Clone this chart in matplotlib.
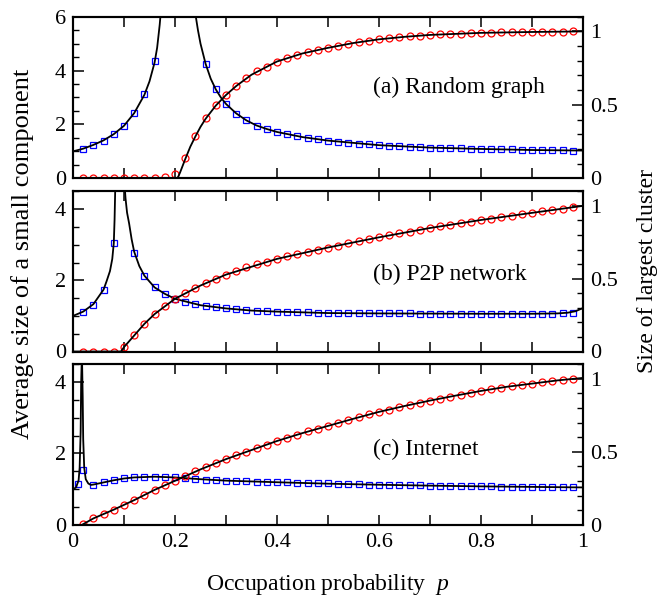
import numpy as np
import matplotlib
matplotlib.use("Agg")
import matplotlib.pyplot as plt
from matplotlib.ticker import MultipleLocator, FuncFormatter

plt.rcParams['font.family'] = ['Liberation Serif', 'DejaVu Serif']
plt.rcParams['mathtext.fontset'] = 'custom'
plt.rcParams['mathtext.rm'] = 'Liberation Serif'
plt.rcParams['mathtext.it'] = 'Liberation Serif:italic'

nan = float('nan')

# ---------------- data ----------------
p_pts = [0.02, 0.04, 0.06, 0.08, 0.10, 0.12, 0.14, 0.16, 0.18, 0.20,
         0.22, 0.24, 0.26, 0.28, 0.30, 0.32, 0.34, 0.36, 0.38, 0.40,
         0.42, 0.44, 0.46, 0.48, 0.50, 0.52, 0.54, 0.56, 0.58, 0.60,
         0.62, 0.64, 0.66, 0.68, 0.70, 0.72, 0.74, 0.76, 0.78, 0.80,
         0.82, 0.84, 0.86, 0.88, 0.90, 0.92, 0.94, 0.96, 0.98]

# (a) Random graph
a_small = [1.09, 1.23, 1.40, 1.63, 1.95, 2.42, 3.13, 4.35, nan, nan,
           nan, nan, 4.25, 3.30, 2.75, 2.40, 2.15, 1.96, 1.83, 1.72,
           1.63, 1.56, 1.51, 1.46, 1.40, 1.36, 1.32, 1.29, 1.26, 1.23,
           1.21, 1.19, 1.17, 1.15, 1.14, 1.13, 1.12, 1.11, 1.10, 1.09,
           1.08, 1.07, 1.07, 1.06, 1.05, 1.05, 1.04, 1.04, 1.03]
a_giant = [0.0, 0.0, 0.0, 0.0, 0.0, 0.0, 0.0, 0.003, 0.01, 0.03,
           0.14, 0.29, 0.41, 0.50, 0.57, 0.63, 0.68, 0.73, 0.76, 0.795,
           0.82, 0.84, 0.86, 0.875, 0.888, 0.901, 0.915, 0.927, 0.937, 0.946,
           0.953, 0.96, 0.966, 0.971, 0.976, 0.979, 0.982, 0.985, 0.988, 0.990,
           0.991, 0.993, 0.994, 0.995, 0.996, 0.997, 0.998, 0.999, 1.0]
a_small_line_p = [0.0, 0.02, 0.04, 0.06, 0.08, 0.10, 0.12, 0.14, 0.15, 0.16,
                  0.165, 0.17, 0.175, nan,
                  0.236, 0.24, 0.245, 0.25, 0.26, 0.27, 0.28, 0.29, 0.30, 0.32,
                  0.34, 0.36, 0.38, 0.40, 0.45, 0.50, 0.60, 0.70, 0.80, 0.90, 1.0]
a_small_line = [1.0, 1.10, 1.24, 1.41, 1.64, 1.95, 2.42, 3.10, 3.60, 4.30,
                4.85, 5.70, 6.80, nan,
                6.80, 6.10, 5.50, 5.00, 4.25, 3.70, 3.30, 3.00, 2.76, 2.41,
                2.15, 1.96, 1.83, 1.72, 1.53, 1.40, 1.23, 1.14, 1.09, 1.05, 1.03]
a_giant_line_p = [0.0, 0.205, 0.21, 0.22, 0.23, 0.24, 0.25, 0.26, 0.28, 0.30,
                  0.32, 0.35, 0.40, 0.45, 0.50, 0.55, 0.60, 0.65, 0.70, 0.80,
                  0.90, 1.0]
a_giant_line = [0.0, 0.0, 0.04, 0.13, 0.215, 0.285, 0.35, 0.405, 0.495, 0.567,
                0.628, 0.705, 0.795, 0.85, 0.888, 0.921, 0.946, 0.963, 0.976, 0.990,
                0.996, 1.0]

# (b) P2P network
b_small = [1.11, 1.32, 1.73, 3.05, nan, 2.77, 2.11, 1.80, 1.62, 1.48,
           1.40, 1.33, 1.28, 1.24, 1.21, 1.18, 1.16, 1.14, 1.13, 1.12,
           1.11, 1.10, 1.10, 1.09, 1.08, 1.08, 1.08, 1.07, 1.07, 1.07,
           1.07, 1.07, 1.07, 1.06, 1.06, 1.06, 1.06, 1.06, 1.06, 1.06,
           1.06, 1.06, 1.06, 1.06, 1.06, 1.06, 1.06, 1.07, 1.09]
b_giant = [0.0, 0.0, 0.0, 0.0, 0.03, 0.11, 0.19, 0.257, 0.314, 0.362,
           0.40, 0.436, 0.47, 0.50, 0.528, 0.555, 0.578, 0.598, 0.617, 0.636,
           0.654, 0.67, 0.686, 0.70, 0.714, 0.727, 0.742, 0.757, 0.771, 0.784,
           0.798, 0.811, 0.823, 0.836, 0.848, 0.86, 0.871, 0.882, 0.892, 0.903,
           0.913, 0.923, 0.933, 0.943, 0.952, 0.962, 0.972, 0.981, 0.99]
b_small_line_p = [0.0, 0.02, 0.04, 0.06, 0.066, 0.0725, 0.077, 0.08, 0.0815, 0.083, nan,
                  0.101, 0.103, 0.106, 0.11, 0.115, 0.12, 0.13, 0.14, 0.16, 0.18,
                  0.20, 0.25, 0.30, 0.35, 0.40, 0.50, 0.60, 0.70, 0.80, 0.90,
                  0.95, 0.97, 0.985, 1.0]
b_small_line = [1.0, 1.12, 1.33, 1.74, 1.98, 2.26, 2.60, 3.05, 3.70, 4.70, nan,
                4.70, 4.30, 3.90, 3.60, 3.15, 2.80, 2.40, 2.13, 1.80, 1.62,
                1.48, 1.30, 1.21, 1.15, 1.12, 1.08, 1.07, 1.065, 1.06, 1.06,
                1.07, 1.09, 1.13, 1.22]
b_giant_line_p = [0.0, 0.094, 0.10, 0.12, 0.14, 0.16, 0.20, 0.25, 0.30, 0.40,
                  0.50, 0.60, 0.70, 0.80, 0.90, 1.0]
b_giant_line = [0.0, 0.0, 0.03, 0.11, 0.19, 0.257, 0.362, 0.453, 0.528, 0.636,
                0.714, 0.784, 0.848, 0.903, 0.952, 1.0]

# (c) Internet
c_small_p = [0.01] + p_pts
c_small = [1.14, 1.54, 1.12, 1.19, 1.25, 1.30, 1.33, 1.34, 1.35, 1.34, 1.33,
           1.31, 1.29, 1.27, 1.25, 1.24, 1.23, 1.22, 1.21, 1.20, 1.195,
           1.19, 1.18, 1.17, 1.165, 1.16, 1.145, 1.14, 1.135, 1.13, 1.125,
           1.12, 1.115, 1.11, 1.105, 1.10, 1.095, 1.09, 1.09, 1.085, 1.08,
           1.08, 1.075, 1.07, 1.07, 1.065, 1.06, 1.06, 1.055, 1.05]
c_giant = [0.007, 0.045, 0.073, 0.105, 0.136, 0.17, 0.202, 0.24, 0.27, 0.302,
           0.335, 0.366, 0.395, 0.423, 0.45, 0.475, 0.50, 0.525, 0.55, 0.574,
           0.597, 0.618, 0.639, 0.659, 0.677, 0.696, 0.716, 0.736, 0.755, 0.773,
           0.789, 0.805, 0.82, 0.836, 0.85, 0.864, 0.877, 0.891, 0.905, 0.916,
           0.927, 0.939, 0.948, 0.957, 0.966, 0.975, 0.984, 0.991, 0.998]
c_small_line_p = [0.0, 0.006, 0.011, 0.013, 0.015, 0.016, 0.0175, 0.019, 0.020, 0.022,
                  0.025, 0.03, 0.035, 0.04, 0.06, 0.08, 0.10, 0.12, 0.16, 0.20,
                  0.25, 0.30, 0.40, 0.50, 0.60, 0.70, 0.80, 0.90, 1.0]
c_small_line = [1.0, 1.05, 1.25, 1.60, 2.60, 4.00, 4.80, 3.60, 2.40, 1.60,
                1.28, 1.16, 1.12, 1.13, 1.19, 1.25, 1.30, 1.33, 1.35, 1.33,
                1.28, 1.24, 1.195, 1.155, 1.125, 1.10, 1.08, 1.065, 1.05]
c_giant_line_p = [0.017, 0.04, 0.08, 0.12, 0.16, 0.20, 0.25, 0.30, 0.35, 0.40,
                  0.45, 0.50, 0.55, 0.60, 0.65, 0.70, 0.75, 0.80, 0.85, 0.90,
                  0.95, 1.0]
c_giant_line = [0.0, 0.045, 0.105, 0.17, 0.24, 0.302, 0.38, 0.45, 0.512, 0.574,
                0.628, 0.677, 0.726, 0.773, 0.813, 0.85, 0.884, 0.916, 0.944, 0.966,
                0.988, 1.005]

panel_labels = ["(a) Random graph", "(b) P2P network", "(c) Internet"]
left_ylims = [6, 4.5, 4.5]

panels = [
    (p_pts, a_small, p_pts, a_giant, a_small_line_p, a_small_line, a_giant_line_p, a_giant_line),
    (p_pts, b_small, p_pts, b_giant, b_small_line_p, b_small_line, b_giant_line_p, b_giant_line),
    (c_small_p, c_small, p_pts, c_giant, c_small_line_p, c_small_line, c_giant_line_p, c_giant_line),
]

# ---------------- figure ----------------
W, H = 658, 597
fig = plt.figure(figsize=(W / 100, H / 100), dpi=100)

left = 73 / W
width = (583 - 73) / W
tops = [16.7, 191.3, 364.0]
bottoms = [178.3, 351.5, 525.0]
label_y = [0.526, 0.446, 0.435]

fmt = FuncFormatter(lambda v, pos: '%g' % v)
fs_tick = 16
lw_spine = 1.5

for i, (ps, small, pg, giant, slp, sl, glp, gl) in enumerate(panels):
    b = 1 - bottoms[i] / H
    h = (bottoms[i] - tops[i]) / H
    ax = fig.add_axes([left, b, width, h])
    ax2 = ax.twinx()

    ax.plot(ps, small, linestyle='none', marker='s', markersize=5,
            markerfacecolor='none', markeredgecolor='#0000ff', markeredgewidth=0.9,
            zorder=2)
    ax.plot(slp, sl, color='black', lw=1.3, zorder=3)
    ax2.plot(pg, giant, linestyle='none', marker='o', markersize=5,
             markerfacecolor='none', markeredgecolor='#ff0000', markeredgewidth=0.9,
             zorder=2)
    ax2.plot(glp, gl, color='black', lw=1.3, zorder=3)

    ax.set_xlim(0, 1)
    ax.set_ylim(0, left_ylims[i])
    ax2.set_ylim(0, 1.1)

    ax.xaxis.set_major_locator(MultipleLocator(0.2))
    ax.xaxis.set_minor_locator(MultipleLocator(0.1))
    ax.yaxis.set_major_locator(MultipleLocator(2))
    ax.yaxis.set_minor_locator(MultipleLocator(0.5))
    ax2.yaxis.set_major_locator(MultipleLocator(0.5))
    ax2.yaxis.set_minor_locator(MultipleLocator(0.1))
    ax.xaxis.set_major_formatter(fmt)
    ax.yaxis.set_major_formatter(fmt)
    ax2.yaxis.set_major_formatter(fmt)

    ax.tick_params(axis='x', which='both', direction='in', top=True, bottom=True,
                   length=7, width=1.1, labelsize=fs_tick, pad=6,
                   labelbottom=(i == 2))
    ax.tick_params(axis='y', which='major', direction='in', left=True, right=False,
                   length=8, width=1.1, labelsize=fs_tick, pad=5)
    ax.tick_params(axis='y', which='minor', direction='in', left=True, right=False,
                   length=4, width=1.0)
    ax2.tick_params(axis='y', which='major', direction='in', right=True, left=False,
                    length=8, width=1.1, labelsize=fs_tick, pad=5)
    ax2.tick_params(axis='y', which='minor', direction='in', right=True, left=False,
                    length=4, width=1.0)
    ax2.tick_params(axis='x', which='both', top=False, bottom=False)

    for a_ in (ax, ax2):
        for s in a_.spines.values():
            s.set_linewidth(lw_spine)

    ax.text(0.588, label_y[i], panel_labels[i], transform=ax.transAxes,
            fontsize=17, ha='left', va='baseline', zorder=5)

yc_axes = 1 - ((16.7 + 525) / 2) / H
fig.text(22.5 / W, 1 - 254 / H, "Average size of a small component", rotation=90,
         ha='center', va='center', fontsize=19)
fig.text(647 / W, yc_axes, "Size of largest cluster", rotation=90,
         ha='center', va='center', fontsize=17)
fig.text(328 / W, 1 - 590 / H, "Occupation probability  $p$",
         ha='center', va='baseline', fontsize=17)

fig.savefig("out.png", dpi=100)
